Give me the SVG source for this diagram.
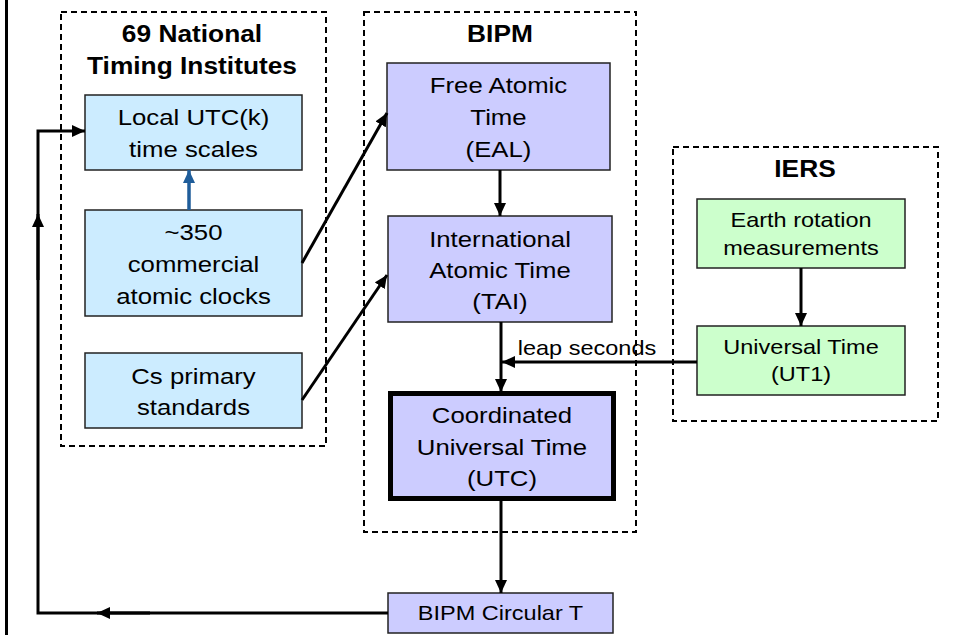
<svg xmlns="http://www.w3.org/2000/svg" width="955" height="635" viewBox="0 0 955 635">
<style>
text{font-family:"Liberation Sans",Arial,sans-serif;fill:#000;text-anchor:middle}
.t{font-size:23px}
.s{font-size:21px}
.h{font-size:23.5px;font-weight:bold}
.dash{fill:none;stroke:#000;stroke-width:2;stroke-dasharray:6,4}
.blue{fill:#CCECFF;stroke:#222;stroke-width:1.5}
.lav{fill:#CCCCFF;stroke:#222;stroke-width:1.5}
.grn{fill:#CCFFCC;stroke:#222;stroke-width:1.5}
.c{fill:none;stroke:#000;stroke-width:3}
</style>
<defs>
<marker id="ah" markerUnits="userSpaceOnUse" markerWidth="14" markerHeight="12" refX="13" refY="6" orient="auto">
<path d="M0,0 L13,6 L0,12 z" fill="#000"/>
</marker>
<marker id="ahb" markerUnits="userSpaceOnUse" markerWidth="14" markerHeight="12" refX="13" refY="6" orient="auto">
<path d="M0,0 L13,6 L0,12 z" fill="#1F5D9A"/>
</marker>
</defs>
<rect width="955" height="635" fill="#fff"/>
<line x1="6.5" y1="0" x2="6.5" y2="635" stroke="#000" stroke-width="3"/>

<g id="nti">
<rect class="dash" x="61" y="12" width="265" height="434"/>
<text class="h" transform="translate(192,42) scale(1.12,1)">69 National</text>
<text class="h" transform="translate(192,74) scale(1.12,1)">Timing Institutes</text>
</g>
<g id="bipm">
<rect class="dash" x="364" y="12" width="272" height="520"/>
<text class="h" transform="translate(500,42) scale(1.12,1)">BIPM</text>
</g>
<g id="iers">
<rect class="dash" x="673" y="147" width="265" height="274"/>
<text class="h" transform="translate(805,177) scale(1.12,1)">IERS</text>
</g>

<g id="local">
<rect class="blue" x="85" y="95" width="217" height="75"/>
<text class="t" transform="translate(193.5,125) scale(1.12,1)">Local UTC(k)</text>
<text class="t" transform="translate(193.5,157) scale(1.12,1)">time scales</text>
</g>
<g id="clocks">
<rect class="blue" x="85" y="210" width="217" height="106"/>
<text class="t" transform="translate(193.5,240) scale(1.12,1)">~350</text>
<text class="t" transform="translate(193.5,272) scale(1.12,1)">commercial</text>
<text class="t" transform="translate(193.5,304) scale(1.12,1)">atomic clocks</text>
</g>
<g id="cs">
<rect class="blue" x="85" y="353" width="217" height="75"/>
<text class="t" transform="translate(193.5,384) scale(1.12,1)">Cs primary</text>
<text class="t" transform="translate(193.5,415) scale(1.12,1)">standards</text>
</g>
<g id="eal">
<rect class="lav" x="387" y="63" width="223" height="107"/>
<text class="t" transform="translate(498.5,93) scale(1.12,1)">Free Atomic</text>
<text class="t" transform="translate(498.5,125) scale(1.12,1)">Time</text>
<text class="t" transform="translate(498.5,157) scale(1.12,1)">(EAL)</text>
</g>
<g id="tai">
<rect class="lav" x="388" y="216" width="224" height="106"/>
<text class="t" transform="translate(500,247) scale(1.12,1)">International</text>
<text class="t" transform="translate(500,278) scale(1.12,1)">Atomic Time</text>
<text class="t" transform="translate(500,309) scale(1.12,1)">(TAI)</text>
</g>
<g id="utc">
<rect x="390.5" y="393.5" width="223" height="105" fill="#CCCCFF" stroke="#000" stroke-width="5"/>
<text class="t" transform="translate(502,423) scale(1.12,1)">Coordinated</text>
<text class="t" transform="translate(502,455) scale(1.12,1)">Universal Time</text>
<text class="t" transform="translate(502,486) scale(1.12,1)">(UTC)</text>
</g>
<g id="circt">
<rect class="lav" x="388" y="593" width="225" height="40"/>
<text class="s" transform="translate(500.5,620) scale(1.12,1)">BIPM Circular T</text>
</g>
<g id="earth">
<rect class="grn" x="697" y="199" width="208" height="69"/>
<text class="s" transform="translate(801,227) scale(1.12,1)">Earth rotation</text>
<text class="s" transform="translate(801,255) scale(1.12,1)">measurements</text>
</g>
<g id="ut1">
<rect class="grn" x="697" y="326" width="208" height="69"/>
<text class="s" transform="translate(801,354) scale(1.12,1)">Universal Time</text>
<text class="s" transform="translate(801,381) scale(1.12,1)">(UT1)</text>
</g>

<g id="connectors">
<line x1="189" y1="210" x2="189" y2="170" stroke="#1F5D9A" stroke-width="3.5" marker-end="url(#ahb)"/>
<line class="c" x1="302" y1="263" x2="387" y2="113" marker-end="url(#ah)"/>
<line class="c" x1="302" y1="400" x2="387" y2="275" marker-end="url(#ah)"/>
<line class="c" x1="500" y1="170" x2="500" y2="216" marker-end="url(#ah)"/>
<line class="c" x1="501" y1="322" x2="501" y2="392" marker-end="url(#ah)"/>
<line class="c" x1="697" y1="362" x2="502" y2="362" marker-end="url(#ah)"/>
<text class="s" transform="translate(587,355) scale(1.12,1)">leap seconds</text>
<line class="c" x1="801" y1="268" x2="801" y2="326" marker-end="url(#ah)"/>
<line class="c" x1="501" y1="499" x2="501" y2="593" marker-end="url(#ah)"/>
<path class="c" d="M388,613 L38,613 L38,131 L85,131" marker-end="url(#ah)"/>
<line class="c" x1="150" y1="613" x2="97" y2="613" marker-end="url(#ah)"/>
<line class="c" x1="38" y1="280" x2="38" y2="214" marker-end="url(#ah)"/>
</g>
</svg>
